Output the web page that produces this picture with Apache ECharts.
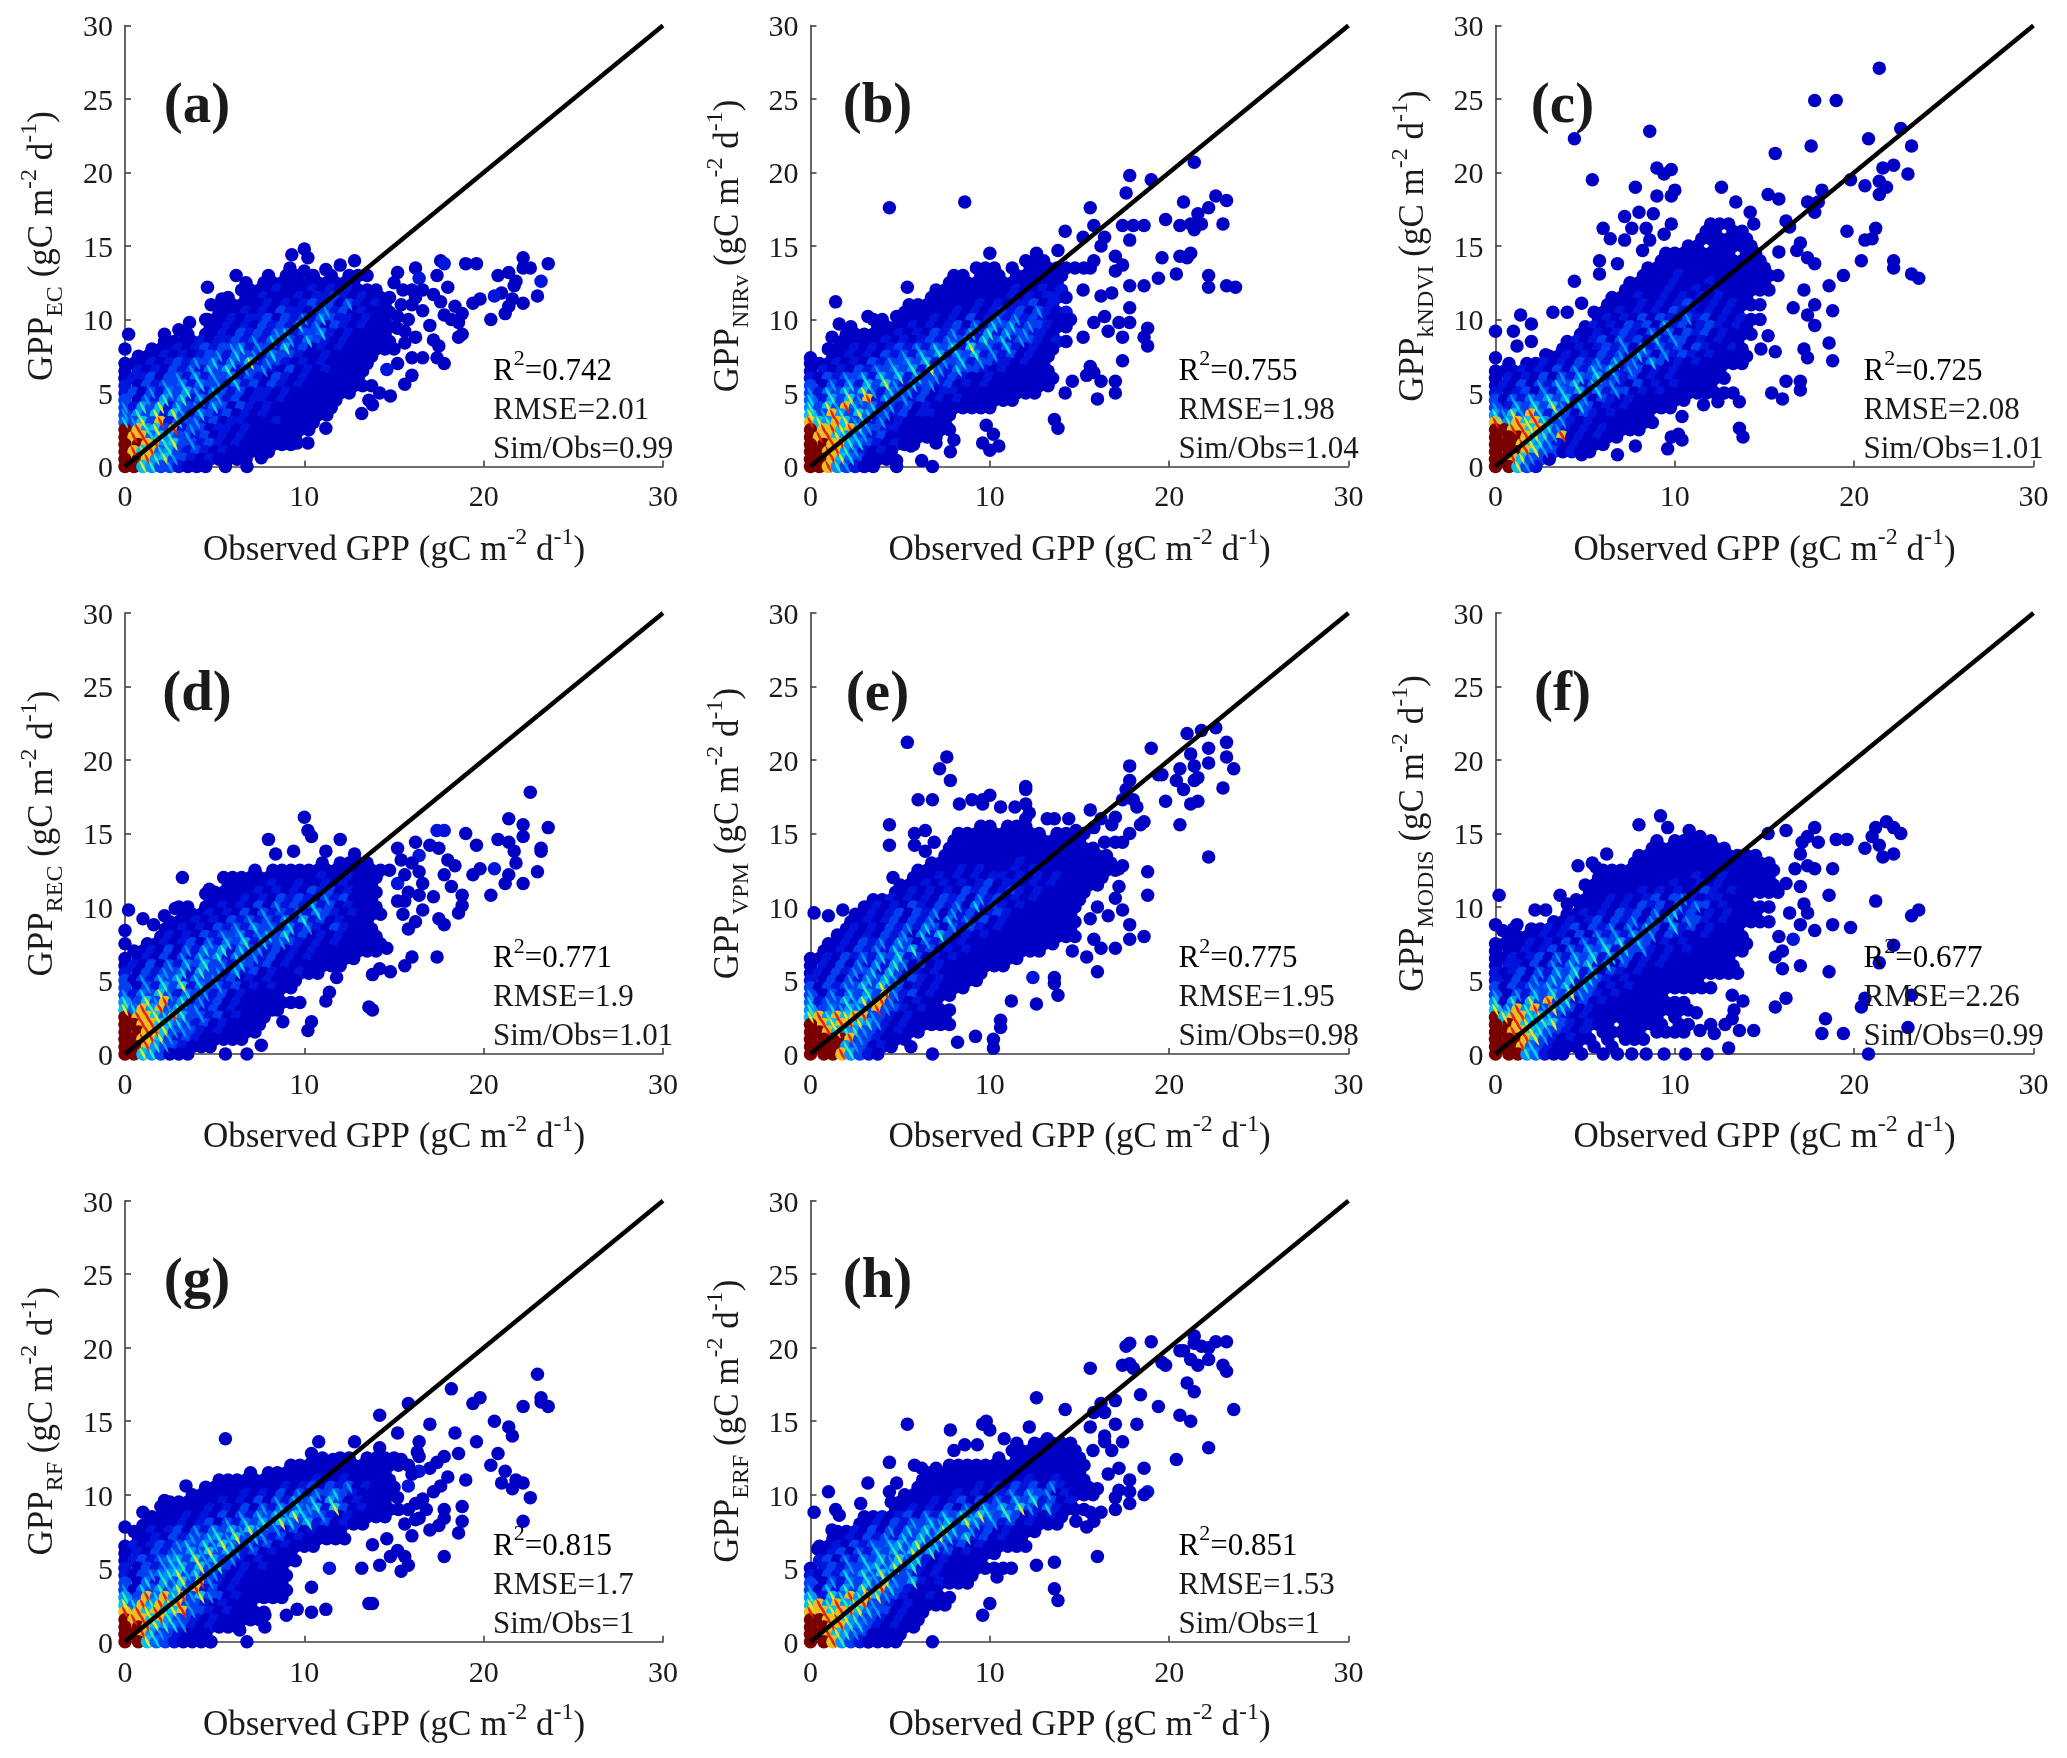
<!DOCTYPE html>
<html>
<head>
<meta charset="utf-8">
<style>
html,body{margin:0;padding:0;background:#fff}
#chart{width:2067px;height:1758px}
</style>
<script src="https://cdn.jsdelivr.net/npm/echarts@6/dist/echarts.min.js"></script>
</head>
<body>
<div id="chart"></div>
<script>
var panelLetters=['(a)','(b)','(c)','(d)','(e)','(f)','(g)','(h)'];
var ySubscripts=['EC','NIRv','kNDVI','REC','VPM','MODIS','RF','ERF'];
var r2Values=['0.742','0.755','0.725','0.771','0.775','0.677','0.815','0.851'];
var rmseValues=['2.01','1.98','2.08','1.9','1.95','2.26','1.7','1.53'];
var simObsValues=['0.99','1.04','1.01','1.01','0.98','0.99','1','1'];
var xTicks=[0,10,20,30];
var yTicks=[0,5,10,15,20,25,30];
var oneToOne=[[0,0],[30,30]];

// scattered points read one by one: [obs, sim, colour level if not the darkest]
var pointsA=[[10,14.8],[9.3,14.4],[10.2,14.2],[9.2,13.5],[10,13.3],[12,13.7],[12.8,14],[11.2,13.4],[6.2,13],[4.6,12.2],[8,13],[15.2,13.2],[16.2,13.5],[17.6,14],[17.8,13.8,2],[19,13.8],[19.6,13.8],[22.2,14.2],[22.2,13.5],[22.6,13.5],[23.6,13.8],[20.8,13],[21.4,13.2],[21.8,12.6],[21.7,12.3],[23.2,12.6,2],[17.4,13],[16.4,12.8,2],[18,12.2],[23,11.6],[22.2,11.1],[21.6,11.4],[21,11.8],[20.6,11.6,2],[21.4,10.9],[19.8,11.4],[19.4,11.1],[21.2,10.4],[20.4,10],[18.4,10.9],[18.8,10.4],[17.8,10.3],[18.2,10],[18.6,9.8],[18.8,9],[18.6,8.8],[17,9.6],[16.2,8.8],[17.2,8.6],[17.5,8.2],[17.4,7.4],[17.8,7],[16.6,7.4],[16,7.4],[15.2,7],[14.6,6.6,2],[16,6.2],[15.6,5.6],[14.8,4.8],[14.2,5],[13.6,4.5],[13.8,4.2],[13.2,3.6],[11.2,2.6],[10.2,1.6],[9.6,1.6],[8.8,1.6],[8,1],[7.6,0.6],[6.8,0],[5.6,0],[0.2,9],[0,8],[2.2,9],[2.2,8.5],[3.6,9.8],[3,9.3],[4.6,10],[4.8,11],[5.4,11.4],[15,12.5],[15.5,12],[16,12],[16.6,12],[16.2,11.5],[17.2,11.7],[17.6,11.2],[15.4,11],[16,11],[16.6,10.6],[15.2,10.2],[15.8,10],[15.2,9.4],[15.6,9.2],[15.6,8.4],[15,8]];
var pointsB=[[21.4,20.7],[17.8,19.8],[19,19.5],[17.6,18.6],[8.6,18],[4.4,17.6],[15.6,17.6],[20.8,18],[22.6,18.4],[23.2,18.1],[22.2,17.6],[21.6,17.2],[19.8,16.8],[20.6,16.4],[21.2,16.5],[21.8,16.5],[21.4,16.1],[23,16.5],[15.8,16.4],[17.4,16.4],[18,16.4],[18.6,16.4],[14.2,16],[15.2,15.6],[16.4,15.6],[16.2,15],[17.8,15.4],[17,14.3],[17.4,13.7],[17,13.3],[15.8,14],[15.6,13.5],[19.6,14.2],[20.6,14.3],[21.2,14.5],[21,14.2],[20.4,13.1],[19.4,12.8],[22.2,13],[22.2,12.2],[23.2,12.3],[23.7,12.2],[17.8,12.3],[18.6,12.3],[10,14.5],[13.8,14.7],[12.6,14.5],[5.4,12.2],[1.4,11.2],[1.6,9.7],[3.2,10.2],[4.8,10.2],[1.2,8.8],[1,8],[0,7.4],[16.8,11.8],[16.2,11.6],[15.2,12],[17.8,10.8],[17.8,9.8],[17.2,9.8],[16.6,9.2],[17.4,8.8],[18.8,9.4],[18.6,8.8],[18.8,8.2],[17.4,7.2],[16.4,10.2],[15.8,9.8],[15.2,8.8],[15.6,6.8],[15.4,6.2],[15.8,6.4],[16.2,5.8],[17,5.8],[17,5],[16,4.6],[14.6,5.8],[14.2,5],[13.6,3.2],[13.8,2.6],[7.6,2.7],[9.8,2.8],[10.2,2.2],[8,1.8],[7,1.6],[9.6,1.6],[10.5,1.4],[10,1.1],[7.8,1],[5.6,1.4],[6.2,0.4],[6.8,0],[4.8,0.4],[4.8,0]];
var pointsC=[[21.4,27.1],[17.8,24.9],[19,24.9],[8.6,22.8],[4.4,22.3],[22.6,23],[20.8,22.3],[23.2,21.8],[17.6,21.8],[15.6,21.3],[21.6,20.3],[22.2,20.5],[23,19.9],[9,20.3],[9.4,19.9],[9.8,20.2],[5.4,19.5],[19.8,19.5],[20.6,19.1],[21.4,19.4],[21.8,19],[21.4,18.5],[7.8,19],[12.6,19],[10,18.8],[9.8,18.4],[9,18.4],[15.2,18.5],[15.8,18.2],[18.2,18.8],[17.4,18],[18,18],[17.8,17.3],[13.4,18],[8,17.3],[8.8,17.2],[7.2,17],[14.2,17.3],[14.4,16.5],[16.2,16.7],[16.4,16.3],[9.8,16.5],[6,16.2],[7.6,16.2],[8.4,16.2],[6.4,15.5],[7.2,15.4],[9.4,15.8],[8.6,15.4],[8.2,14.7],[19.6,16],[21.2,16.2],[20.6,15.4],[21,15.5],[17,15.2],[16.8,14.7],[15.8,14.6],[17.4,14.2],[17.8,13.8],[20.4,14],[22.2,14],[22.2,13.5],[23.2,13.1],[23.6,12.8],[19.4,13],[5.8,14],[6.8,13.8],[5.8,13.1],[4.4,12.6],[18.6,12.3],[17.2,12],[17.8,11],[18.8,10.6],[17.4,10.3],[17.8,9.6],[16.6,10.8],[15.2,8.9],[18.6,8.4],[17.2,8],[17.4,7.4],[18.8,7.2],[15.6,7.8],[14.8,8],[16.2,5.8],[17,5.8],[17,5.2],[15.4,5],[16,4.6],[13.6,4.4],[12.4,4.4],[11.6,4.2],[10.4,3.4],[13.6,2.6],[13.8,2],[10.2,2.2],[10.4,1.8],[9.8,2],[9.6,1.2],[7.8,1.4],[6.8,0.8],[4.8,0.8],[4.8,11.1],[1.4,10.3],[0,9.2],[1,9.2],[2,9.7],[3.2,10.5],[4,10.5],[1.2,8.2],[2,8.5],[0,7.4],[2.8,7.6]];
var pointsD=[[22.6,17.8],[10,16.1],[21.4,16],[22.2,15.6],[23.6,15.4],[22.2,14.8],[17.8,15.2,2],[17.4,15.2,2],[19,15],[10.2,15.2],[10.4,14.8],[8,14.6],[12,14.6],[16.2,14.4],[20.8,14.6],[21.4,14.4],[19.6,14.2],[21.7,13.8],[23.2,14],[23.2,13.8],[17,14.2],[17.5,14],[16.4,13.5,2],[15.2,14],[8.4,13.6],[9.4,13.8],[11.2,13.8],[12.8,13.6],[21.8,13],[18,13.2],[18.4,12.8],[19.8,12.6],[19.4,12.2],[20.6,12.6,2],[21.4,12.2],[23,12.4],[21.2,11.6],[22.2,11.6],[20.4,10.8],[3.2,12],[17.8,12.2],[18.2,11.4],[18.8,10.8],[18.8,10.1],[18.6,9.6],[17.2,10.7],[16.6,9.8],[17.5,9.2],[17.8,8.8],[16.2,9],[15.2,11.6,2],[15.5,9.5],[15.8,8.5],[14.6,7.2],[16,6.6],[15.6,6],[17.4,6.6],[14.8,5.6],[14.2,5.8],[13.8,5.4],[11.8,5.2],[11.4,4.2],[11.2,3.6],[13.6,3.2],[13.8,3],[10.4,2.2],[10.2,1.6],[8.8,2.2],[8.2,3,2],[7.6,0.6],[6.8,0],[5.6,0],[0.2,9.8],[0,8.4],[0,7.5],[1,9.2],[1.6,8.8],[2.2,9.4],[2.8,9.9],[4.7,11.2],[4.5,10.9],[15.4,13.2],[16,13],[16.4,12.4],[15.6,12.2],[16.6,11.6],[15.8,11],[16.4,10.8],[15.2,10.4],[15.6,10.4]];
var pointsE=[[5.4,21.2],[21.8,22],[22.6,22.2],[21,21.8],[19,20.8],[23.2,21.2],[22.2,20.8],[21.2,20.4],[23.2,20.2],[22.2,19.8],[21.4,19.6],[20.6,19.4],[23.6,19.4],[7.6,20.2],[7.2,19.4],[7.8,18.6],[17.8,19.6],[17.8,18.6],[19.4,19],[19.6,19],[20.4,18.6],[21.4,18.6],[21.6,18.8],[20.8,18],[23,18.1],[12,18.2],[12,18],[17.6,18],[17.4,17.3],[18,17.3],[6,17.3],[6.8,17.3],[19.8,17.2],[21.6,17.2],[21.2,17],[10,17.6],[9.6,17.3],[9,17.3],[8.3,17],[9.6,17],[10.6,16.8],[11.4,16.8],[12,17],[12.2,16.4],[12,16],[15.6,16.6],[18.2,16.8],[17,16.1],[13.2,16],[13.6,16],[14.4,16],[18.6,15.8],[18.4,15.6],[20.6,15.6],[4.4,15.6],[4.4,14.2],[5.8,15],[6.4,15.2],[6.9,14.4],[5.8,14.2],[6.4,13.8],[16.2,16],[16.8,15.6],[15.8,15.4],[14.8,15.2],[17.8,15],[17.4,14.4],[17,14.4],[16.4,14.4],[22.2,13.4],[17.4,12.8],[17.2,12.6],[18.8,12.4],[4.6,12],[17.2,11.4],[17,10.6],[18.8,10.8],[16,10],[17.4,9.8],[16.6,9.4],[15.6,9.2],[17.8,8.8],[15.8,7.8],[17.8,7.8],[18.6,8],[16.2,7.2],[17,7.2],[15.4,6.6],[16,5.6],[14.6,7],[13.6,5.2],[13.6,4.8],[13.8,4],[12.6,3.4],[12.4,5.2,2],[11.2,3.6],[10.6,2.3],[10.6,1.8],[9.2,1.2],[10.2,1],[10.2,0.4],[8.2,0.8],[6.8,0],[5.6,0.5],[0.2,9.6],[1,9.4],[1.8,9.8],[3,10],[1.5,8.1]];
var pointsF=[[9.2,16.2],[8,15.6],[9.6,15.4],[10.8,15.2],[11.4,14.8],[15.2,15],[16.2,15.2],[17.8,15.4],[17.4,14.8],[17.1,14.4],[18,14.4],[19,14.6],[19.6,14.6],[21.8,15.8],[21.2,15.4],[22.2,15.4],[22.6,15],[21,14.8],[21.4,14.2],[20.6,14],[21.6,13.4],[22.2,13.6],[17,13.6],[6.2,13.6],[5.4,13],[4.6,12.8],[5.6,12.7],[18.8,12.6],[17.8,12.6],[17.4,12.8],[16.7,12.6],[16.2,11.6],[17,11.4],[18.6,10.8],[21.2,10.4],[3.6,10.8],[4,10.2],[0.2,10.8],[2.2,9.8],[2.8,9.8],[23.6,9.8],[23.2,9.4],[17.2,10.2],[17.4,9.6],[16.4,9.6],[17,8.8],[18.8,8.8],[19.8,8.6],[17.8,8.4],[15.8,8],[16.6,7.8,2],[22.2,7.4],[16,7],[15.6,6.6],[16,5.8],[17,6],[18.6,5.6],[21.4,6.2],[1.2,8.8],[0,8.8],[0.4,8.4],[16.2,3.8],[15.6,3.2],[20.6,3.8],[20.4,3.2],[23.2,4],[18.4,2.4],[18.2,1.4],[19.4,1.4],[23,1.8],[20.8,0],[14.4,1.6],[13.6,1.6],[12.8,2],[13,0.4],[11.8,0],[10.6,0],[9.4,0],[13.8,3.6],[13.2,4],[13.3,3],[13.2,2.4],[12,2],[11.2,2.8],[6,0],[6.8,0],[7.6,0],[8.4,0],[4.8,0],[12.2,1.4],[11.4,1.6]];
var pointsG=[[23,18.2],[23.2,16.6],[23.2,16.3],[23.6,16],[22.2,16],[18.2,17.2],[19.8,16.6],[19.4,16.2],[15.8,16.2],[14.2,15.4],[17,14.8],[20.6,15],[21.4,14.6],[21.6,14],[18.4,14.2],[15.2,14.2],[5.6,13.8],[10.8,13.6],[12.8,13.6],[19.6,13.6],[16.4,13.6],[14.2,13.2],[18.6,12.8],[20.8,12.8],[17.8,12.6],[16.3,12.9],[10.4,12.8],[11.6,12.4],[17.4,12.2],[17,11.8],[20.4,12],[21.2,11.6],[16.4,11.6,2],[18,11.2],[19,11],[21.8,11],[22.2,10.8],[21,10.8],[21.6,10.4],[17.6,10.6],[17.2,10.2],[15.8,10.6,2],[3.4,10.6],[22.6,9.8],[18.8,9.2],[18.8,8.2],[22.2,8.2],[18.6,7.4],[17,7.6],[17.5,7.9],[16.6,9.7],[17.8,9],[17.8,8.4],[16,7.2],[15.6,8],[16.2,8.3],[17.8,5.8],[2.2,9.6],[2,9.2],[1,8.8],[0,7.8],[1,7.9],[0.2,6.4],[14.6,7],[13.8,6.6],[15.2,6.2],[15.6,5.8],[14.8,5.8],[14.2,5.2],[13.2,5],[15.8,5.2],[15.4,4.8],[11.4,5,2],[13.6,2.6],[13.8,2.6],[11.2,2.2],[10.4,2],[9.6,2.2],[9,1.8],[7.8,1.8],[7.8,1],[7,2],[6.4,0.8],[6.8,0],[4.8,0],[10.4,3.7],[15.4,12.4],[15.8,12],[16,11.4],[16.4,12.6],[15.2,9.8],[15.8,9],[16.2,9.4],[16.8,9],[16.4,8.4]];
var pointsH=[[17.8,20.3],[17.6,20.1],[19,20.4],[21.4,20.8],[21.4,20.3],[21.8,20.1],[22.6,20.4],[23.2,20.4],[22.2,20],[20.6,19.8],[20.8,19.8],[21.2,19.2],[22.2,19.2],[21.6,18.8],[19.6,19],[19.8,18.8],[15.6,18.6],[17.4,18.8],[17.8,18.9],[18,18.6],[23,18.8],[23.2,18.4],[21,17.6],[21.4,17],[12.6,16.6],[18.4,16.8],[17,16.4],[16.2,16.2],[16.4,15.6],[15.8,15.6],[14.2,15.8],[19.4,16],[23.6,15.8],[20.6,15.4],[21.2,15],[17,14.8],[18.2,14.8],[5.4,14.8],[7.8,14.4],[9.6,14.8],[9.8,15],[10,14.4],[12.2,14.6],[15.6,14.6],[16.4,14],[16.4,13.6],[17.4,13.6],[16.8,13],[10.8,13.8],[22.2,13.2],[20.4,12.4],[18.6,11.8],[17.2,11.8],[4.4,12.2],[5.8,12],[6.2,11.8],[7,11.8],[3.2,10.8],[4.8,10.8],[1,10.2],[4.4,10.2],[17.8,11],[16.6,11.4],[16,10.4],[18.8,10.2,2],[18.6,10],[17.8,10.2],[17.2,10.3],[17,9.8],[17.8,9.4],[17,9],[16.2,8.8],[15.6,8.8],[15.8,8.2],[14.8,8.2],[15.4,7.8],[0.2,8.8],[1.4,9],[1.6,8.6],[2.8,9.4],[1.2,7.6],[0.4,6.3],[16,5.8],[13.6,5.4],[12.6,5.2],[11.2,5],[10.4,4.4],[13.6,3.6],[13.8,2.8],[10,2.6],[9.6,1.8],[6.8,0],[4.8,0.2],[3.2,0],[8,13],[8.6,13.4],[9.3,13.4],[13.2,13.8]];

// density read off the crowded part: one row per 0.5 of sim from the top row down,
// one digit per 0.5 of obs from 0, digit is the colour level, dot is empty
var densityTops=[13,14,16.5,13,15.5,14.5,12.5,13.5];
var densityA=[
'..................11.1.1.111','.............1.11111111111','.............1111211121212111','...........1.11211121223212111','...........1111121212323142121','..........11121213221342312111','.........111212231324253221211','.........112121323252413212111','.......1.112132324523352121111','.....1112122324253425321211111','...111212323452432623121211111','.111212123425342533211211111','1112123243525372432121211111','121213242536243421312121111','122313425243523213212111111','2132435253425231321211111111','23142536425323122121111111','314263625342312212111111','426372534253132121111111','46372742532312121111111','5473825342312211121111','986738243122121111111','98857634231212111111','9988673423212111111','9878563232121111','99867432121111','9976342111'];
var densityB=[
'........................111','..................111.1.1111111','................11.111.111111','...............1111111111111','..............111111111211212','.............1111111112121221','...........11111111212122312','..........1111112121232314212','.......11.11112121312424232111','....1..1111212123142535243211','....111111212132425262534221','...11111212123243526352432121','..11121212324253627342521211','..1121213242536253624231211','111212132435362435243221211','121213243536274253321211111','2132435263625342321121111111','314252637425342312121111111','42536374253423122111111111','52637482534231212111111','637485352423121111111','7486375342312211','8768745241211111','9887864322111111','988765423111111','998865321211','9988642121','998753111','99864211'];
var densityC=[
'........................111','.......................11.11','.......................111111','.....................11.11111','...................11111111.11','..................111111111111','.................11111111111111','................1111211111111111','...............1111121112111111','..............11111211212111111','.............1112112121212111','............111121212321212111','...........11121212132212121','...........1212131321423121211','..........1212132315231232121','.........11212321424132312111','........12123142315243121211','.......112123241524231321121','......11212132425314232121111','.1.1121213242534253121211111','11121213142536243121211111','12121314253624231212111111','1213142536253421312121111','212314253625243121211111111','3142536362413212111111','42536374253121211111','647485263132121111','868786342121111111','99887864212121111','99987648121211','9998764212111','99987431211','9987431','99742'];
var densityD=[
'......................1.1111','..............1.11111111111111','...........111111111112112111','...........11111211211212111','..........1111121212132312111','.........1111212132321423111','......11.11212131423252312111','......11121213142324253212111','.....11121213242425262312111','....112121324253425242132111','....1212132435245362312121111','..112123142536253432121211111','.1121314253625342312121111111','11213142536253423121211111','1213142536342532312111111','2132435263425231211211','31425362534231212111','3142637253423121211','425374253423121111','63748362423121111111','758684634231211111','9887586342312111','9988765423121111','998874432121111','99887423211111','9986432111','99763111'];
var densityE=[
'...................11.111','................1111111111.1111','................111111111111111','...............11111111111111111','...............1111111111111111111','.............111111111121111111111','............11111212111212111111111','...........1112121212212121211111','..........11121212123122121211111','.........1121212132312321211111','.......112121213231423121211111','......121213213241523212111111','.....1121231324142312321111111','....11212313241524231211111111','....12121324253142321211111111','...121213241526312121111111111','..11213242531423121111111111','.1121324253623121211111111','112132425362312121111111','1213142526413121111111','12132435263121211111','2131425364132121111','313243637431212111','4142536384231211','524364738421211','6354653843212111','7868788432121111','9878876421211111','9987664321211','99998432111','9999643121','99986321'];
var densityF=[
'..................1.11111','.................111111111.','................11111111111111','...............1111111111111111','............11111111111111111111','...........11111111111211211111','..........1111111111211212111111','..........1111112121212321211111','.........11112121231342122111','.........1112121323142431211111','........1121213231415231212111','......1121231324142514321211111','..1.112123132414253152312111','.111121213142425341321121111','11112121314253625312121111111','1112123142536253421212111111','112123142536254312121111111','122131425362513121211111111','2123142536251321211111111111','21314253625321211111111','3132435362531212111111111','4142536374321211111','6162738462312111111111','7586847531211111111111','9788675321211111111.1','9987567321211.11111.11','99887643212.11111.1111','99987421211.1.111','9998532111.1.1','99965211'];
var densityG=[
'.....................11.11.1111','..................1111111111111','..............1.11111111111111','..........11111111111211211111','.........1111111112123132412111','.......11111121213142435321111','.....1111112121314253526312111','....111112121314253546273121111','...111121213142536475342121111','..1111212314253647536231211','.112123142536475342312111','.112132435647354231211111','1212324536475342312111','1213243647364231211','12324563746342121111','213245637463121211','2134567463421211111','315264738421211111','4153647482312111111','638586847431211111','758687843212111','8878678432121111','9887864321211111','9987654212111','9986432111','9975321111'];
var densityH=[
'.......................1.11111','......................11111111.1','.....................1.11111111','...............1111111111111111','.............111111111111111111','............1111111111112112111','............11111112121323142111','..........1111112121324253412111','.........111112123132425362312','.........1121213142536374252111','......11212314253647536312121','.....11213243546375342312111','...11213142536475342312111','..1121324253647536231211','.112132435647354231211111','.12314253647362312111','.2314253647362121111','1232435647362121111111','2132536475342121111','314253647436212111','415263748532111','6275868743211211','7868678432121111','8878875431211','9988764321211','998865321211','99876431111','9986321111'];

var allPoints=[pointsA,pointsB,pointsC,pointsD,pointsE,pointsF,pointsG,pointsH];
var allDensity=[densityA,densityB,densityC,densityD,densityE,densityF,densityG,densityH];
// level -> colour of the round mark, and colour of the sliver left showing on top of it
var baseColors=['#0000c4','#0000c4','#0014dc','#0040f0','#0040f0','#0060f8','#0090ff','#00c0f0','#e8c020','#7a0000'];
var sliverColors=['','','','','#0098ff','#00d8f0','#30eeb0','#e8e820','#e82010',''];
var sliverPath='path://M0 0Q6 4 8 14Q2 10 0 0Z';

var FONT='"Liberation Serif","Times New Roman",serif';
var textColor='#1a1a1a';
var axisColor='#404040';
var grids=[],xAxes=[],yAxes=[],series=[],graphics=[];
var labelRich={
  m:{fontSize:35,lineHeight:50,fontFamily:FONT,color:textColor},
  sup:{fontSize:24,lineHeight:22,verticalAlign:'top',fontFamily:FONT,color:textColor},
  sub:{fontSize:24,lineHeight:22,verticalAlign:'bottom',fontFamily:FONT,color:textColor}
};
var statRich={
  m:{fontSize:31,lineHeight:46,fontFamily:FONT,color:textColor},
  sup:{fontSize:22,lineHeight:20,verticalAlign:'top',fontFamily:FONT,color:textColor}
};

// odd rows sit a quarter unit across, the way the marks overlap in the picture
function densityToPoints(rows,top){
  var out=[];
  rows.forEach(function(row,r){
    for(var c=0;c<row.length;c++){
      if(row[c]!='.') out.push([c>0?c/2+(r%2)*0.25:0,top-r/2,+row[c]]);
    }
  });
  return out;
}

var colLeft=[125,810.5,1495.5];
var rowBottom=[466.5,1054,1641.7];
var plotW=538,plotH=441;

panelLetters.forEach(function(letter,i){
  var col=i%3,row=Math.floor(i/3);
  var x0=colLeft[col],y0=rowBottom[row];
  grids.push({left:x0,top:y0-plotH,width:plotW,height:plotH,containLabel:false});
  xAxes.push({
    type:'value',gridIndex:i,min:xTicks[0],max:xTicks[xTicks.length-1],interval:xTicks[1]-xTicks[0],
    name:'{m|Observed GPP (gC m}{sup|-2}{m| d}{sup|-1}{m|)}',nameLocation:'middle',nameGap:59,
    nameTextStyle:{rich:labelRich},
    splitLine:{show:false},
    axisLine:{show:true,onZero:false,lineStyle:{color:axisColor,width:1.6}},
    axisTick:{inside:true,length:6,lineStyle:{color:axisColor,width:1.6}},
    axisLabel:{margin:17,fontSize:30,fontFamily:FONT,color:textColor}
  });
  yAxes.push({
    type:'value',gridIndex:i,min:yTicks[0],max:yTicks[yTicks.length-1],interval:yTicks[1]-yTicks[0],
    name:'{m|GPP}{sub|'+ySubscripts[i]+'}{m| (gC m}{sup|-2}{m| d}{sup|-1}{m|)}',nameLocation:'middle',nameGap:57,nameRotate:90,
    nameTextStyle:{rich:labelRich},
    splitLine:{show:false},
    axisLine:{show:true,onZero:false,lineStyle:{color:axisColor,width:1.6}},
    axisTick:{inside:true,length:6,lineStyle:{color:axisColor,width:1.6}},
    axisLabel:{margin:12,fontSize:30,fontFamily:FONT,color:textColor,verticalAlign:'top',lineHeight:6}
  });
  var pts=allPoints[i].map(function(p){return [p[0],p[1],p[2]||1];});
  var dense=densityToPoints(allDensity[i],densityTops[i]);
  series.push({
    type:'scatter',xAxisIndex:i,yAxisIndex:i,symbol:'circle',symbolSize:13.5,clip:false,z:2,silent:true,animation:false,
    data:pts.concat(dense),
    itemStyle:{opacity:1,color:function(p){return baseColors[p.value[2]];}}
  });
  series.push({
    type:'scatter',xAxisIndex:i,yAxisIndex:i,symbol:sliverPath,symbolSize:[7,13],clip:false,z:2,silent:true,animation:false,
    data:dense.filter(function(p){return p[2]>=4&&p[2]<9;}),
    itemStyle:{opacity:1,color:function(p){return sliverColors[p.value[2]];}}
  });
  series.push({
    type:'line',xAxisIndex:i,yAxisIndex:i,data:oneToOne,symbol:'none',z:3,silent:true,animation:false,
    lineStyle:{color:'#000',width:4.5}
  });
  graphics.push({type:'text',z:10,x:x0+(col==0?72:67),y:y0-359,style:{text:letter,align:'center',verticalAlign:'middle',font:'bold 57px '+FONT,fill:'#1a1a1a'}});
  var tx=x0+368;
  graphics.push({type:'text',z:10,x:tx,y:y0-95,style:{text:'{m|R}{sup|2}{m|='+r2Values[i]+'}',align:'left',verticalAlign:'middle',rich:statRich}});
  graphics.push({type:'text',z:10,x:tx,y:y0-56,style:{text:'RMSE='+rmseValues[i],align:'left',verticalAlign:'middle',font:'31px '+FONT,fill:textColor}});
  graphics.push({type:'text',z:10,x:tx,y:y0-17,style:{text:'Sim/Obs='+simObsValues[i],align:'left',verticalAlign:'middle',font:'31px '+FONT,fill:textColor}});
});

var myChart=echarts.init(document.getElementById('chart'),null,{renderer:'canvas'});
myChart.setOption({
  backgroundColor:'#fff',
  animation:false,
  grid:grids,xAxis:xAxes,yAxis:yAxes,series:series,graphic:graphics
});
</script>
</body>
</html>
